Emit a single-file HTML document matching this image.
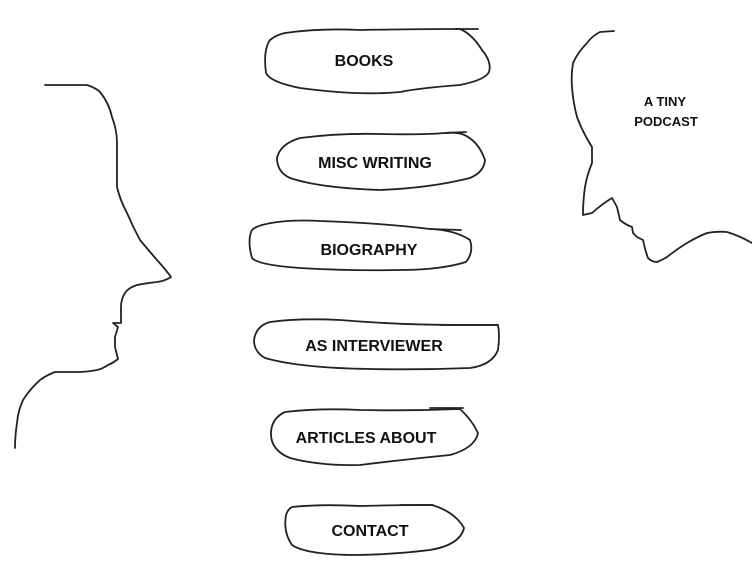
<!DOCTYPE html>
<html><head><meta charset="utf-8"><style>
html,body{margin:0;padding:0;background:#fff;width:752px;height:581px;overflow:hidden}
svg{display:block}
text{font-family:"Liberation Sans",sans-serif;font-size:16px;fill:#111;text-anchor:middle;font-weight:bold}
</style></head><body>
<svg width="752" height="581" viewBox="0 0 752 581" fill="none" stroke="#222" stroke-width="1.8" stroke-linejoin="round" stroke-linecap="round">
<path d="M45,85 L87,85 Q96,88 100,92 Q109,103 112,117 Q117,130 117,143 L117,187 Q120,200 127,213 Q133,227 140,240 Q150,252 157,260 Q166,270 171,277 Q165,281 157,282 Q147,283 137,285 Q128,288 125,293 Q121,299 121,307 L121,323 L113,323 L118,327 L115,337 L115,347 L118,359 Q113,363 108,365 Q102,369 97,370 Q87,372 77,372 L55,372 Q47,375 40,380 Q30,389 23,400 Q18,411 17,423 Q15,436 15,448"/>
<path d="M614,31 L600,32 Q592,36 587,43 Q578,52 573,63 Q571,75 572,87 Q573,102 577,117 Q583,133 592,147 L592,163 Q587,175 585,187 Q583,201 583,215 L592,213 Q602,204 612,198 L617,207 L620,220 Q626,225 632,227 L633,233 L637,237 L643,240 Q645,250 648,258 Q652,262 657,262 Q662,260 667,257 Q677,249 687,243 Q697,237 707,233 Q717,231 727,232 Q740,236 752,243"/>
<path d="M285,33 Q320,28 360,30 Q420,29 455,29 L460,29 Q472,34 482,50 Q492,62 489,72 Q485,80 460,85 Q420,88 400,92 Q360,96 300,88 Q270,82 266,73 Q263,50 270,40 Q276,35 285,33 Z"/>
<path d="M455,29 L478,29"/>
<path d="M300,138 Q340,133 380,134 Q420,135 445,133 Q455,132 462,134 Q478,140 485,160 Q484,172 470,178 Q430,188 380,190 Q320,188 290,178 Q277,172 277,158 Q280,144 300,138 Z"/>
<path d="M445,133 L466,132"/>
<path d="M262,225 Q285,219 320,221 Q380,223 430,229 Q455,230 470,240 Q474,252 466,262 Q440,270 400,270 Q350,271 300,268 Q258,265 252,258 Q247,240 252,230 Q255,227 262,225 Z"/>
<path d="M430,229 L461,230"/>
<path d="M270,322 Q300,318 340,320 Q400,325 460,325 L498,325 Q500,335 498,350 Q492,365 470,368 Q420,370 370,369 Q300,368 265,358 Q254,352 254,340 Q256,326 270,322 Z"/>
<path d="M440,325 L498,325"/>
<path d="M285,412 Q320,408 360,410 Q410,411 460,409 Q472,420 478,433 Q475,448 450,455 Q400,460 360,465 Q320,466 290,458 Q270,450 271,432 Q272,418 285,412 Z"/>
<path d="M430,408 L463,408"/>
<path d="M292,507 Q320,504 360,506 Q400,505 432,505 Q455,512 464,528 Q460,545 430,550 Q390,555 350,555 Q305,554 292,545 Q283,532 286,515 Q288,509 292,507 Z"/>
<path d="M400,505 L433,505"/>
<g stroke="none">
<text x="364" y="66">BOOKS</text>
<text x="375" y="168">MISC WRITING</text>
<text x="369" y="255">BIOGRAPHY</text>
<text x="374" y="351">AS INTERVIEWER</text>
<text x="366" y="443">ARTICLES ABOUT</text>
<text x="370" y="536">CONTACT</text>
<text x="665" y="106" style="font-size:13px">A TINY</text>
<text x="666" y="126" style="font-size:13px">PODCAST</text>
</g>
</svg>
</body></html>
